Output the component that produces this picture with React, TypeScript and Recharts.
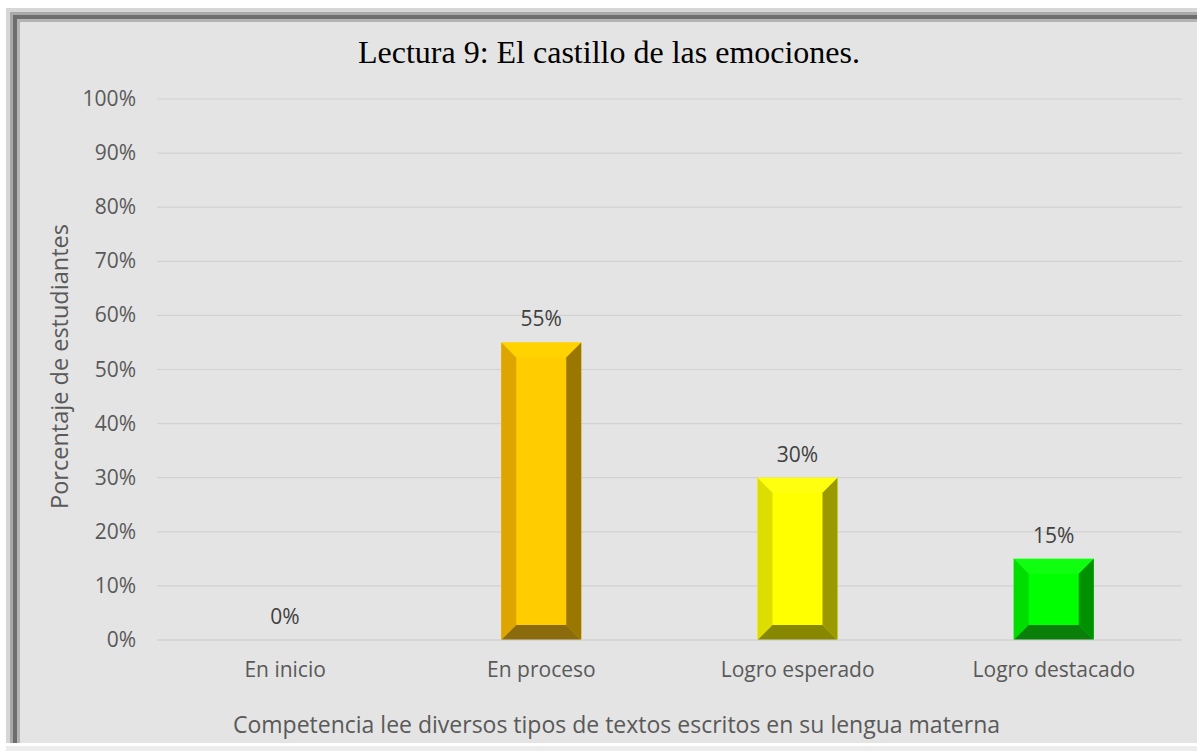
import React from 'react';
import { BarChart, Bar, XAxis, YAxis, CartesianGrid, LabelList, Cell } from 'recharts';

const categories = ['En inicio', 'En proceso', 'Logro esperado', 'Logro destacado'];
const values = [0, 55, 30, 15];
const yTicks = [0, 10, 20, 30, 40, 50, 60, 70, 80, 90, 100];
const title = 'Lectura 9: El castillo de las emociones.';
const yTitle = 'Porcentaje de estudiantes';
const xTitle = 'Competencia lee diversos tipos de textos escritos en su lengua materna';

const palettes = [
  { top: '#5b9bd5', left: '#4a85bb', center: '#5b9bd5', right: '#33608a', bottom: '#2e577d' },
  { top: '#ffd200', left: '#dea500', center: '#ffcc00', right: '#9a7700', bottom: '#8b6b0b' },
  { top: '#ffff10', left: '#dddd00', center: '#ffff00', right: '#9a9a00', bottom: '#888800' },
  { top: '#10ff10', left: '#00dd00', center: '#00ff00', right: '#009000', bottom: '#0a800a' },
];

const data = categories.map((c, i) => ({ name: c, value: values[i], idx: i }));

const FONT = '"Open Sans", sans-serif';
const GREY = '#595959';

const BevelBar = (props: any) => {
  const { x, y, width: w, height: h, payload } = props;
  if (!h || h <= 0) return null;
  const p = palettes[payload.idx];
  const b = Math.min(15, w / 2, h / 2);
  const pts = (a: number[][]) => a.map((q) => q.join(',')).join(' ');
  return (
    <g>
      <rect x={x} y={y} width={w} height={h} fill={p.center} />
      <polygon points={pts([[x, y], [x + w, y], [x + w - b, y + b], [x + b, y + b]])} fill={p.top} />
      <polygon points={pts([[x, y], [x + b, y + b], [x + b, y + h - b], [x, y + h]])} fill={p.left} />
      <polygon points={pts([[x + w, y], [x + w, y + h], [x + w - b, y + h - b], [x + w - b, y + b]])} fill={p.right} />
      <polygon points={pts([[x, y + h], [x + b, y + h - b], [x + w - b, y + h - b], [x + w, y + h]])} fill={p.bottom} />
    </g>
  );
};

const YTick = (props: any) => {
  const { x, y, payload } = props;
  return (
    <text x={x - 13} y={y} dy={7} textAnchor="end" fill={GREY} fontSize={21} fontFamily={FONT}>
      {payload.value + '%'}
    </text>
  );
};

const XTick = (props: any) => {
  const { x, y, payload } = props;
  return (
    <text x={x} y={y} dy={29} textAnchor="middle" fill={GREY} fontSize={21} fontFamily={FONT}>
      {payload.value}
    </text>
  );
};

export default function App() {
  return (
    <div style={{ position: 'absolute', left: 0, top: 0, width: 1197, height: 751, background: '#ffffff', overflow: 'hidden' }}>
      <div
        style={{
          position: 'absolute',
          left: 6,
          top: 8,
          width: 1191,
          height: 735,
          background: '#e4e4e4',
          boxShadow:
            'inset 4px 4px 0 0 #d6d6d6, inset 7px 7px 0 0 #a9a9a9, inset 11px 11px 0 0 #6e6e6e, inset 14px 14px 0 0 #b4b4b4',
        }}
      />
      <div style={{ position: 'absolute', left: 6, top: 746, width: 1191, height: 5, background: '#ececec' }} />
      <div
        style={{
          position: 'absolute',
          left: 0,
          width: 1218,
          top: 32,
          textAlign: 'center',
          fontFamily: '"Liberation Serif", "Times New Roman", serif',
          fontSize: 32,
          color: '#000',
          lineHeight: '40px',
        }}
      >
        {title}
      </div>
      <div style={{ position: 'absolute', left: 0, top: 0 }}>
        <BarChart width={1197} height={751} data={data} margin={{ top: 99, right: 15, left: 97, bottom: 81 }} barSize={80}>
          <CartesianGrid horizontal vertical={false} stroke="#d2d2d2" strokeWidth={1.2} />
          <XAxis
            dataKey="name"
            axisLine={{ stroke: '#d2d2d2' }}
            tickLine={false}
            tick={<XTick />}
            height={30}
            interval={0}
            label={{
              content: (lp: any) => {
                const vb = lp.viewBox;
                return (
                  <text x={vb.x + vb.width / 2 - 53} y={vb.y + 93} textAnchor="middle" fill={GREY} fontSize={23} fontFamily={FONT}>
                    {xTitle}
                  </text>
                );
              },
            }}
          />
          <YAxis
            domain={[0, 100]}
            ticks={yTicks}
            axisLine={false}
            tickLine={false}
            tick={<YTick />}
            width={60}
            interval={0}
            label={{
              content: (lp: any) => {
                const vb = lp.viewBox;
                const cx = vb.x - 37;
                const cy = vb.y + vb.height / 2 - 3;
                return (
                  <text x={cx} y={cy} transform={`rotate(-90 ${cx} ${cy})`} dy={8} textAnchor="middle" fill={GREY} fontSize={23.5} fontFamily={FONT}>
                    {yTitle}
                  </text>
                );
              },
            }}
          />
          <Bar dataKey="value" shape={<BevelBar />} isAnimationActive={false}>
            {data.map((d) => (
              <Cell key={d.name} fill={palettes[d.idx].center} />
            ))}
            <LabelList
              dataKey="value"
              position="top"
              offset={16}
              formatter={(v: any) => v + '%'}
              fill="#404040"
              fontSize={21}
              fontFamily={FONT}
            />
          </Bar>
        </BarChart>
      </div>
    </div>
  );
}
